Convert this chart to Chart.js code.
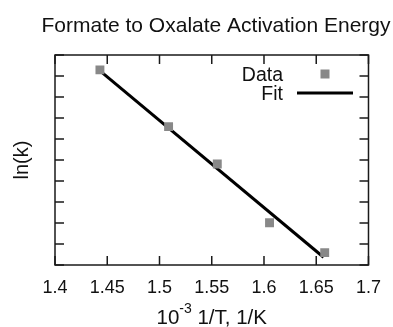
<!DOCTYPE html>
<html>
<head>
<meta charset="utf-8">
<script src="https://cdn.jsdelivr.net/npm/chart.js@4"></script>
<style>
  html, body { margin: 0; padding: 0; background: #fff; }
  #wrap { width: 393px; height: 327px; }
</style>
</head>
<body>
<div id="wrap"><canvas id="myChart" width="393" height="327"></canvas></div>
<script>
// values
var invT = [1.443, 1.5087, 1.5553, 1.6053, 1.6581];
var lnK = [9.29, 6.59, 4.81, 2.01, 0.59];
var fitX = [1.4431, 1.657];
var fitY = [9.24, 0.37];
var xTicks = ["1.4", "1.45", "1.5", "1.55", "1.6", "1.65", "1.7"];

var FONT = "'Liberation Sans', Arial, Helvetica, sans-serif";

// gnuplot-ish frame with inward ticks, title, legend and x title
var framePlugin = {
  id: "frame",
  afterDraw: function (chart) {
    var ctx = chart.ctx;
    var a = chart.chartArea;
    var xs = chart.scales.x, ys = chart.scales.y;
    var tl = 9;
    ctx.save();
    ctx.strokeStyle = "#1a1a1a";
    ctx.lineWidth = 1.5;
    ctx.strokeRect(a.left, a.top, a.right - a.left, a.bottom - a.top);
    ctx.beginPath();
    xs.ticks.forEach(function (t) {
      var px = xs.getPixelForValue(t.value);
      ctx.moveTo(px, a.bottom); ctx.lineTo(px, a.bottom - tl);
      ctx.moveTo(px, a.top); ctx.lineTo(px, a.top + tl);
    });
    ys.ticks.forEach(function (t) {
      var py = ys.getPixelForValue(t.value);
      ctx.moveTo(a.left, py); ctx.lineTo(a.left + tl, py);
      ctx.moveTo(a.right, py); ctx.lineTo(a.right - tl, py);
    });
    ctx.stroke();

    ctx.fillStyle = "#111";
    // title
    ctx.font = "21px " + FONT;
    ctx.textAlign = "center";
    ctx.textBaseline = "alphabetic";
    ctx.fillText("Formate to Oxalate Activation Energy", 216, 31.5);

    // legend
    ctx.font = "19.5px " + FONT;
    ctx.textAlign = "right";
    ctx.fillText("Data", 283, 80.5);
    ctx.fillText("Fit", 283, 100);
    ctx.fillStyle = "#888";
    ctx.fillRect(320.5, 69.5, 9, 9);
    ctx.strokeStyle = "#000";
    ctx.lineWidth = 3;
    ctx.beginPath();
    ctx.moveTo(297, 93); ctx.lineTo(353, 93);
    ctx.stroke();

    // x title with superscript
    ctx.fillStyle = "#111";
    ctx.textAlign = "left";
    var base = 323.5;
    var p1 = "10", p2 = "-3", p3 = " 1/T, 1/K";
    ctx.font = "20.5px " + FONT;
    var w1 = ctx.measureText(p1).width, w3 = ctx.measureText(p3).width;
    ctx.font = "14px " + FONT;
    var w2 = ctx.measureText(p2).width;
    var x0 = (a.left + a.right) / 2 - (w1 + w2 + w3) / 2;
    ctx.font = "20.5px " + FONT;
    ctx.fillText(p1, x0, base);
    ctx.font = "14px " + FONT;
    ctx.fillText(p2, x0 + w1, base - 10.5);
    ctx.font = "20.5px " + FONT;
    ctx.fillText(p3, x0 + w1 + w2, base);
    ctx.restore();
  }
};

var config = {
  type: "scatter",
  data: {
    datasets: [
      {
        label: "Data",
        data: invT.map(function (x, i) { return { x: x, y: lnK[i] }; }),
        pointStyle: "rect",
        pointRadius: 6.3,
        pointBorderWidth: 0,
        backgroundColor: "#888",
        borderColor: "#888",
        showLine: false
      },
      {
        label: "Fit",
        data: fitX.map(function (x, i) { return { x: x, y: fitY[i] }; }),
        showLine: true,
        pointRadius: 0,
        borderColor: "#000",
        borderWidth: 3
      }
    ]
  },
  options: {
    responsive: false,
    animation: false,
    layout: { padding: { top: 55, right: 16, left: 0, bottom: 0 } },
    plugins: {
      legend: { display: false },
      title: { display: false },
      tooltip: { enabled: false }
    },
    scales: {
      x: {
        type: "linear",
        min: 1.4,
        max: 1.7,
        ticks: {
          stepSize: 0.05,
          padding: 12,
          color: "#111",
          font: { family: FONT, size: 18 },
          maxRotation: 0,
          callback: function (v, i) { return xTicks[i]; }
        },
        grid: { display: false, drawTicks: false },
        border: { display: false },
        afterFit: function (s) { s.height = 62; }
      },
      y: {
        min: 0,
        max: 10,
        ticks: { display: false, stepSize: 1 },
        grid: { display: false, drawTicks: false },
        border: { display: false },
        title: {
          display: true,
          text: "ln(k)",
          color: "#111",
          font: { family: FONT, size: 20 },
          padding: { top: 10, bottom: 0 }
        },
        afterFit: function (s) { s.width = 55; }
      }
    }
  },
  plugins: [framePlugin]
};

var ctx = document.getElementById("myChart").getContext("2d");
var myChart = new Chart(ctx, config);
</script>
</body>
</html>
